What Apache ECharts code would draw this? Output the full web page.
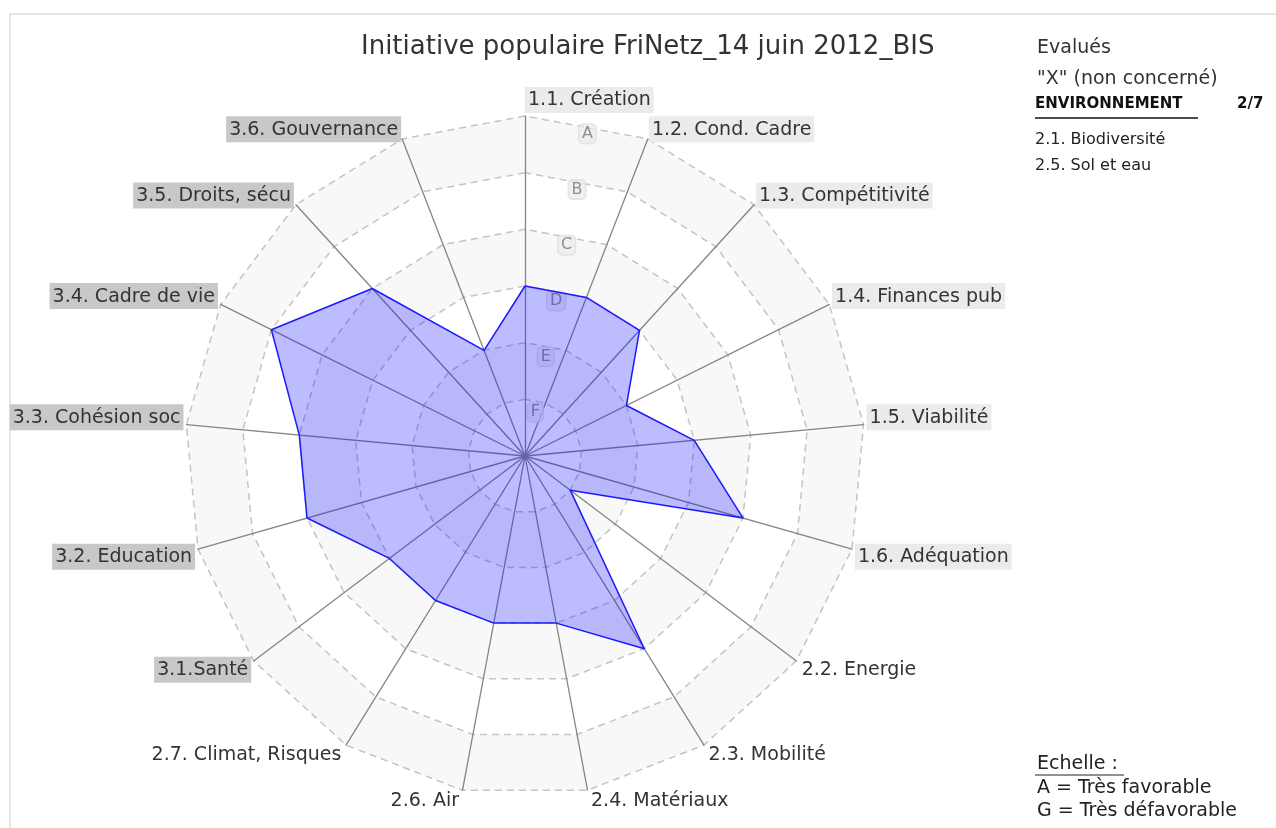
<!DOCTYPE html>
<html>
<head>
<meta charset="utf-8">
<script src="https://cdn.jsdelivr.net/npm/echarts@6/dist/echarts.min.js"></script>
<style>
  html, body { margin: 0; padding: 0; background: #fff; }
  #box { width: 1276px; height: 828px; }
</style>
</head>
<body>
<div id="box"></div>
<script>
// axes, clockwise from the top
const indicatorNames = [
  "1.1. Création", "1.2. Cond. Cadre", "1.3. Compétitivité", "1.4. Finances pub",
  "1.5. Viabilité", "1.6. Adéquation", "2.2. Energie", "2.3. Mobilité",
  "2.4. Matériaux", "2.6. Air", "2.7. Climat, Risques", "3.1.Santé",
  "3.2. Education", "3.3. Cohésion soc", "3.4. Cadre de vie", "3.5. Droits, sécu",
  "3.6. Gouvernance"
];
// score per axis, 6 = A (outer ring) ... 1 = F
const scores = [3, 3, 3, 2, 3, 4, 1, 4, 3, 3, 3, 3, 4, 4, 5, 4, 2];
// ring labels from the centre outwards
const gradeLabels = ["F", "E", "D", "C", "B", "A"];
const maxScore = 6;

const chartTitle = "Initiative populaire FriNetz_14 juin 2012_BIS";
const sideLines = ["Evalués", "\"X\" (non concerné)"];
const themeName = "ENVIRONNEMENT";
const themeCount = "2/7";
const notEvaluated = ["2.1. Biodiversité", "2.5. Sol et eau"];
const scaleLines = ["Echelle :", "A = Très favorable", "G = Très défavorable"];

const FONT = "DejaVu Sans";
const n = indicatorNames.length;

// echarts lays radar axes out counter-clockwise: keep the first, reverse the rest
const order = [0].concat(indicatorNames.map(function (d, i) { return i; }).slice(1).reverse());
const radarNames = order.map(function (i) { return indicatorNames[i]; });
const radarValues = order.map(function (i) { return scores[i]; });

const myChart = echarts.init(document.getElementById("box"));

function nameFormatter(name) {
  const i = indicatorNames.indexOf(name);
  const st = name[0] === "1" ? "light" : (name[0] === "3" ? "dark" : "plain");
  const theta = i * 360 / n;
  if (i === 0) {
    // vertical axis: echarts centres it, push the visible part right of the axis
    return "{hid|" + name + "}{" + st + "|" + name + "}";
  }
  const upper = theta < 90 || theta > 270;
  return upper
    ? "{" + st + "|" + name + "}\n{gap| }"
    : "{gap| }\n{" + st + "|" + name + "}";
}

const labelBase = { fontFamily: FONT, fontSize: 19, color: "#333", padding: [3, 3, 2, 3], height: 21 };

const option = {
  animation: false,
  title: {
    text: chartTitle,
    left: 356,
    top: 29,
    textStyle: { fontFamily: FONT, fontSize: 26, fontWeight: "normal", color: "#333" }
  },
  radar: {
    center: [525, 456],
    radius: 340,
    startAngle: 90,
    shape: "polygon",
    splitNumber: maxScore,
    nameGap: 3,
    indicator: radarNames.map(function (nm) {
      return { name: nm, min: 0, max: maxScore };
    }),
    axisName: {
      formatter: nameFormatter,
      rich: {
        light: Object.assign({}, labelBase, { backgroundColor: "#ebebeb" }),
        dark: Object.assign({}, labelBase, { backgroundColor: "#c8c8c8" }),
        plain: Object.assign({}, labelBase),
        hid: Object.assign({}, labelBase, { color: "transparent" }),
        gap: { fontSize: 12, height: 14, color: "transparent" }
      }
    },
    axisLine: { lineStyle: { color: "#858585", width: 1.3 } },
    axisTick: { show: false },
    axisLabel: { show: false },
    splitLine: { lineStyle: { color: "#c4c4c4", width: 1.5, type: [7, 5] } },
    splitArea: { show: true, areaStyle: { color: ["#ffffff", "#f8f8f8"] } }
  },
  polar: { center: [525, 456], radius: 340 },
  angleAxis: { type: "value", min: 0, max: n, startAngle: 90, clockwise: true, show: false },
  radiusAxis: { type: "value", min: 0, max: maxScore, show: false },
  series: [
    {
      type: "scatter",
      coordinateSystem: "polar",
      z: 1,
      silent: true,
      symbolSize: 0,
      data: gradeLabels.map(function (g, k) { return [k + 1, 0.5]; }),
      label: {
        show: true,
        position: "inside",
        offset: [0, 12],
        formatter: function (p) { return gradeLabels[p.dataIndex]; },
        fontFamily: FONT,
        fontSize: 16,
        color: "#777",
        backgroundColor: "rgba(235,235,235,0.9)",
        borderColor: "#dddddd",
        borderWidth: 1,
        borderRadius: 4,
        padding: [2, 3, 1, 3]
      }
    },
    {
      type: "radar",
      z: 3,
      symbol: "none",
      lineStyle: { color: "#1c1cff", width: 1.5 },
      areaStyle: { color: "#1010ff", opacity: 0.28 },
      data: [{ value: radarValues, name: chartTitle }]
    }
  ],
  graphic: [
    { type: "rect", shape: { x: 10, y: 14, width: 1400, height: 1000 }, style: { fill: "none", stroke: "#e6e6e6", lineWidth: 2 }, silent: true },
    { type: "text", left: 1037, top: 39, style: { text: sideLines[0], font: "19px '" + FONT + "'", fill: "#333" } },
    { type: "text", left: 1037, top: 70, style: { text: sideLines[1], font: "19px '" + FONT + "'", fill: "#333" } },
    { type: "text", left: 1035, top: 97, style: { text: themeName, font: "bold 15px '" + FONT + "'", fill: "#111" } },
    { type: "text", left: 1237, top: 97, style: { text: themeCount, font: "bold 15px '" + FONT + "'", fill: "#111" } },
    { type: "line", shape: { x1: 1035, y1: 118, x2: 1198, y2: 118 }, style: { stroke: "#111", lineWidth: 1.5 } },
    { type: "text", left: 1035, top: 132, style: { text: notEvaluated[0], font: "16px '" + FONT + "'", fill: "#222" } },
    { type: "text", left: 1035, top: 158, style: { text: notEvaluated[1], font: "16px '" + FONT + "'", fill: "#222" } },
    { type: "text", left: 1037, top: 755, style: { text: scaleLines[0], font: "19px '" + FONT + "'", fill: "#222" } },
    { type: "line", shape: { x1: 1035, y1: 775, x2: 1124, y2: 775 }, style: { stroke: "#222", lineWidth: 1 } },
    { type: "text", left: 1037, top: 779, style: { text: scaleLines[1], font: "19px '" + FONT + "'", fill: "#222" } },
    { type: "text", left: 1037, top: 802, style: { text: scaleLines[2], font: "19px '" + FONT + "'", fill: "#222" } }
  ]
};
myChart.setOption(option);
</script>
</body>
</html>
